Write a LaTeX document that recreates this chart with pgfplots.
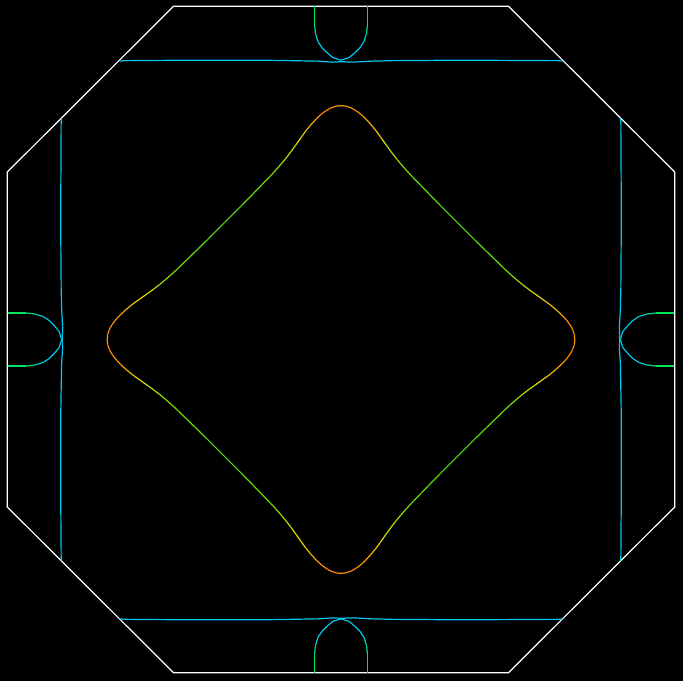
\documentclass[border=0pt]{standalone}
\usepackage{pgfplots}
\usepackage{pgfplotstable}
\pgfplotsset{compat=1.18}
\definecolor{bandcyan}{RGB}{0,200,240}
\pgfplotstableread{
x y c
0 234 3.6
5 233.5 3.8
10 231.8 4
15 229 4
20 225.2 3.9
25 220.5 3.7
30 215 3.5
35 209 3.3
40 202 3.1
45 195 2.9
50 188 2.7
55 181.5 2.5
60 175.5 2.35
65 169.8 2.2
70 164.3 2.1
80 154 2
90 143.7 1.9
100 133.5 1.8
116.75 116.75 1.75
133.5 100 1.8
143.7 90 1.9
154 80 2
164.3 70 2.1
169.8 65 2.2
175.5 60 2.35
181.5 55 2.5
188 50 2.7
195 45 2.9
202 40 3.1
209 35 3.3
215 30 3.5
220.5 25 3.7
225.2 20 3.9
229 15 4
231.8 10 4
233.5 5 3.8
234 0 3.6
}\diamondtab
\pgfplotstableread{
x y c
-26.5 333.5 1
-26.5 315 0.9
-25.5 306 0.4
-23 298 0.15
-19 292 0
-14 287 0
-8 282 0
0 279.5 0
8 282 0
14 287 0
19 292 0
23 298 0.15
25.5 306 0.4
26.5 315 0.9
26.5 333.5 1
}\pockettab
\pgfplotstableread{
x y
-221.5 278.5
-218 279
-150 279.5
-80 279.5
-50 279
-23 278.5
-8 277.5
0 278
12 277.5
30 278.5
50 279
120 279.5
218 279
221.5 278.5
}\linetab
\begin{document}
\begin{tikzpicture}
\begin{axis}[
  scale only axis, width=683pt, height=680pt,
  xmin=-341, xmax=342, ymin=-340.5, ymax=339.5,
  axis background/.style={fill=black},
  axis line style={draw=black},
  ticks=none,
  colormap={fs}{rgb255(0cm)=(0,200,240); rgb255(1cm)=(0,230,80); rgb255(2cm)=(100,220,0); rgb255(3cm)=(230,220,0); rgb255(4cm)=(255,130,0)},
  point meta min=0, point meta max=4,
]
% Brillouin zone octagon
\addplot[white, line width=1.2pt] coordinates {(-167.5,333.5) (167.5,333.5) (334,167.5) (334,-167.5) (167.5,-333.5) (-167.5,-333.5) (-334,-167.5) (-334,167.5) (-167.5,333.5)};
% outer bands
\addplot[bandcyan, line width=1.2pt] table[x=x, y=y] {\linetab};
\addplot[bandcyan, line width=1.2pt] table[x=x, y expr=-\thisrow{y}-1] {\linetab};
\addplot[bandcyan, line width=1.2pt] table[x expr=-\thisrow{y}-1, y=x] {\linetab};
\addplot[bandcyan, line width=1.2pt] table[x expr=\thisrow{y}+1, y=x] {\linetab};
% pockets
\addplot[mesh, point meta=explicit, line width=1.2pt] table[x=x, y=y, meta=c] {\pockettab};
\addplot[mesh, point meta=explicit, line width=1.2pt] table[x=x, y expr=-\thisrow{y}, meta=c] {\pockettab};
\addplot[mesh, point meta=explicit, line width=1.2pt] table[x expr=-\thisrow{y}, y=x, meta=c] {\pockettab};
\addplot[mesh, point meta=explicit, line width=1.2pt] table[x expr=\thisrow{y}, y=x, meta=c] {\pockettab};
% central diamond
\addplot[mesh, point meta=explicit, line width=1.2pt] table[x=x, y=y, meta=c] {\diamondtab};
\addplot[mesh, point meta=explicit, line width=1.2pt] table[x expr=-\thisrow{x}, y=y, meta=c] {\diamondtab};
\addplot[mesh, point meta=explicit, line width=1.2pt] table[x=x, y expr=-\thisrow{y}, meta=c] {\diamondtab};
\addplot[mesh, point meta=explicit, line width=1.2pt] table[x expr=-\thisrow{x}, y expr=-\thisrow{y}, meta=c] {\diamondtab};
\end{axis}
\end{tikzpicture}
\end{document}
